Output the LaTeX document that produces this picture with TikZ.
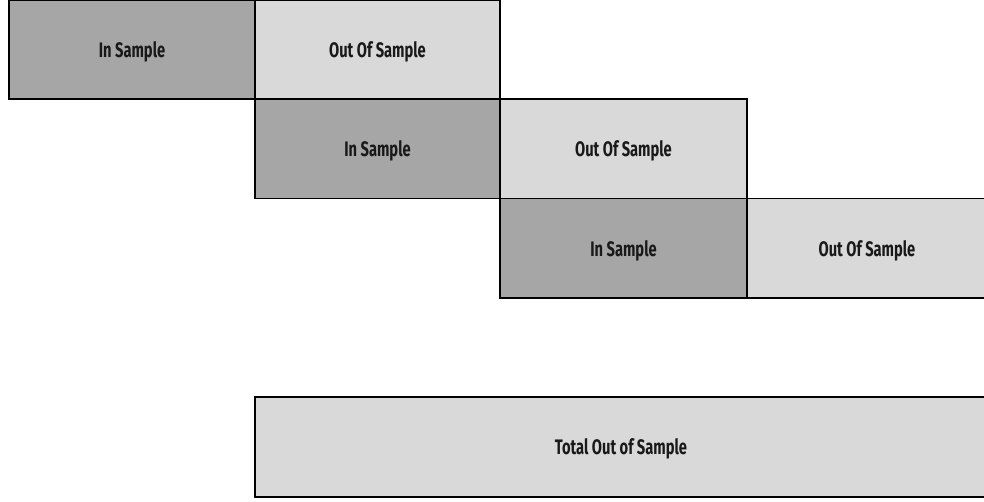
\documentclass[tikz,border=0pt]{standalone}
\usepackage{fontspec}
\setmainfont{Fira Sans}[FakeStretch=0.7]
\definecolor{insample}{HTML}{A6A6A6}
\definecolor{outsample}{HTML}{D9D9D9}
\tikzset{
  cell/.style={draw=black, line width=1.6pt, rectangle, inner sep=0pt,
    text depth=0pt,
    font=\fontsize{21}{22}\selectfont\bfseries, text=black!90},
  isbox/.style={cell, fill=insample},
  oosbox/.style={cell, fill=outsample},
}
\begin{document}
\begin{tikzpicture}[x=1pt,y=-1pt]
  \useasboundingbox (0,0) rectangle (984,501);
  % row 1
  \node[isbox, minimum width=246pt, minimum height=99pt] (is1) at (132,49.5) {In Sample};
  \node[oosbox, minimum width=245pt, minimum height=99pt] (oos1) at (377.5,49.5) {Out Of Sample};
  % row 2
  \node[isbox, minimum width=245pt, minimum height=99.5pt] (is2) at (377.5,148.75) {In Sample};
  \node[oosbox, minimum width=247pt, minimum height=99.5pt] (oos2) at (623.5,148.75) {Out Of Sample};
  % row 3
  \node[isbox, minimum width=247pt, minimum height=99.5pt] (is3) at (623.5,248.25) {In Sample};
  \node[oosbox, minimum width=240pt, minimum height=99.5pt] (oos3) at (867,248.25) {Out Of Sample};
  % aggregate
  \node[oosbox, minimum width=732pt, minimum height=100pt] (total) at (621,447) {Total Out of Sample};
\end{tikzpicture}
\end{document}
